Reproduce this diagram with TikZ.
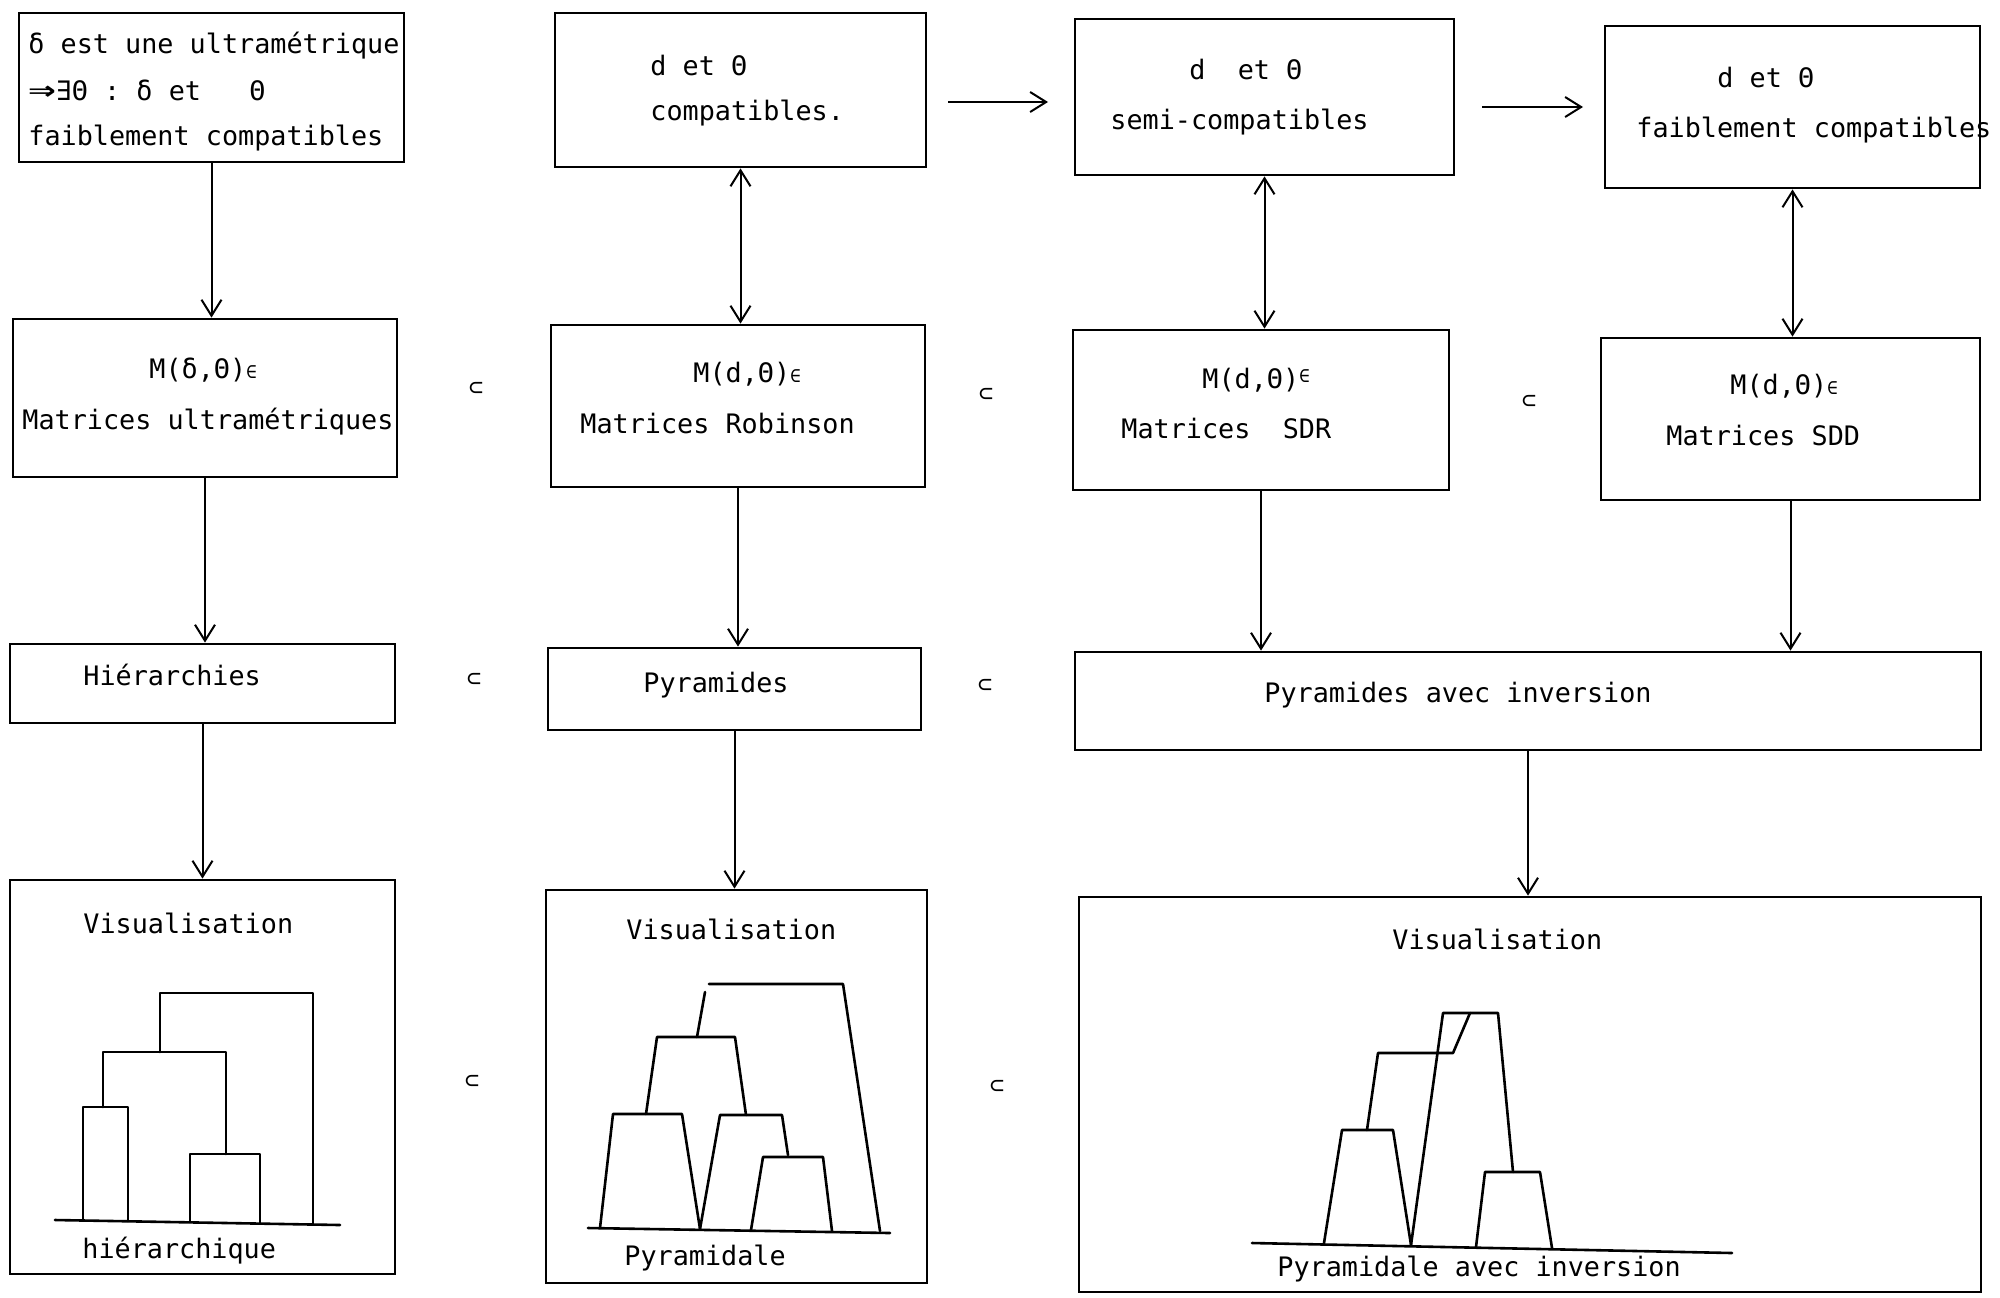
\documentclass[tikz,border=0pt]{standalone}
\usepackage{fontspec}
\usepackage{graphicx}
\setmainfont{DejaVu Sans Mono}
\newfontfamily\boldarrowfont{DejaVu Sans Mono Bold}
\usetikzlibrary{arrows.meta,fit}
\begin{document}
\begin{tikzpicture}[x=0.5pt,y=-0.5pt,
  box/.style={draw, line width=1.4pt, inner sep=0pt},
  txt/.style={anchor=base west, inner sep=0pt, font=\fontsize{13.4}{15}\selectfont},
  barb/.tip={Straight Barb[length=8pt,width=10pt,line width=1pt]},
  arr/.style={line width=1pt, -barb},
  darr/.style={line width=1pt, barb-barb},
  sub/.style={inner sep=0pt, font=\fontsize{12}{12}\selectfont},
  dend/.style={line width=1.3pt, line join=round, line cap=round}]
\useasboundingbox (0,0) rectangle (2000,1297);
\newcommand{\smallin}{{\fontsize{9}{9}\selectfont ∈}}
% Row 1
\node[box, fit={(19,13) (404,162)}] (A) {};
\node[box, fit={(555,13) (926,167)}] (B) {};
\node[box, fit={(1075,19) (1454,175)}] (C) {};
\node[box, fit={(1605,26) (1980,188)}] (D) {};
\node[txt] (a1) at (28,53) {δ est une ultramétrique};
\node[txt] (a2) at (28,100) {\scalebox{1.7}[1.2]{\bfseries ⇒}∃Θ~:~δ~et~~~Θ};
\node[txt] (a3) at (28,145) {faiblement compatibles};
\node[txt] (b1) at (650,75) {d et Θ};
\node[txt] (b2) at (650,120) {compatibles.};
\node[txt] (c1) at (1189,79) {d~~et Θ};
\node[txt] (c2) at (1110,129) {semi-compatibles};
\node[txt] (d1) at (1717,87) {d et Θ};
\node[txt] (d2) at (1636,137) {faiblement compatibles};
\coordinate (bc1) at (948,102);
\coordinate (bc2) at (1048,102);
\coordinate (cd1) at (1482,107);
\coordinate (cd2) at (1583,107);
\draw[arr] (bc1) -- (bc2);
\draw[arr] (cd1) -- (cd2);
% Row 2
\node[box, fit={(13,319) (397,477)}] (E) {};
\node[box, fit={(551,325) (925,487)}] (F) {};
\node[box, fit={(1073,330) (1449,490)}] (G) {};
\node[box, fit={(1601,338) (1980,500)}] (H) {};
\node[txt] (e1) at (149,378) {M(δ,Θ)\smallin};
\node[txt] (e2) at (22,429) {Matrices ultramétriques};
\node[txt] (f1) at (693,382) {M(d,Θ)\smallin};
\node[txt] (f2) at (580,433) {Matrices Robinson};
\node[txt] (g1) at (1202,388) {M(d,Θ)\raisebox{3pt}{\smallin}};
\node[txt] (g2) at (1121,438) {Matrices~~SDR};
\node[txt] (h1) at (1730,394) {M(d,Θ)\smallin};
\node[txt] (h2) at (1666,445) {Matrices SDD};
\node[sub] (s1) at (476,389) {⊂};
\node[sub] (s2) at (986,395) {⊂};
\node[sub] (s3) at (1529,402) {⊂};
\draw[arr] (A.south) -- (A.south |- E.north);
\draw[darr] (B.south) -- (B.south |- F.north);
\draw[darr] (C.south) -- (C.south |- G.north);
\draw[darr] (D.south) -- (D.south |- H.north);
% Row 3
\node[box, fit={(10,644) (395,723)}] (I) {};
\node[box, fit={(548,648) (921,730)}] (J) {};
\node[box, fit={(1075,652) (1981,750)}] (K) {};
\node[txt] (i1) at (83,685) {Hiérarchies};
\node[txt] (j1) at (643,692) {Pyramides};
\node[txt] (k1) at (1264,702) {Pyramides avec inversion};
\node[sub] (s4) at (474,680) {⊂};
\node[sub] (s5) at (985,686) {⊂};
\draw[arr] (E.south) -- (E.south |- I.north);
\draw[arr] (F.south) -- (F.south |- J.north);
\draw[arr] (G.south) -- (G.south |- K.north);
\draw[arr] (H.south) -- (H.south |- K.north);
% Row 4
\node[box, fit={(10,880) (395,1274)}] (L) {};
\node[box, fit={(546,890) (927,1283)}] (M) {};
\node[box, fit={(1079,897) (1981,1292)}] (N) {};
\node[txt] (l1) at (83,933) {Visualisation};
\node[txt] (l2) at (82,1258) {hiérarchique};
\node[txt] (m1) at (626,939) {Visualisation};
\node[txt] (m2) at (624,1265) {Pyramidale};
\node[txt] (n1) at (1392,949) {Visualisation};
\node[txt] (n2) at (1277,1276) {Pyramidale avec inversion};
\node[sub] (s6) at (472,1082) {⊂};
\node[sub] (s7) at (997,1087) {⊂};
\draw[arr] (I.south) -- (I.south |- L.north);
\draw[arr] (J.south) -- (J.south |- M.north);
\draw[arr] (K.south) -- (K.south |- N.north);
% Dendrogram: hierarchy
\draw[dend] (55,1220) -- (340,1225);
\draw[dend] (83,1220) -- (83,1107) -- (128,1107) -- (128,1221);
\draw[dend] (190,1222) -- (190,1154) -- (260,1154) -- (260,1223);
\draw[dend] (103,1107) -- (103,1052) -- (226,1052) -- (226,1154);
\draw[dend] (160,1052) -- (160,993) -- (313,993) -- (313,1224);
% Dendrogram: pyramid
\draw[dend] (588,1228) -- (890,1233);
\draw[dend] (600,1228) -- (613,1114) -- (682,1114) -- (700,1229);
\draw[dend] (700,1229) -- (720,1115) -- (782,1115) -- (788,1155);
\draw[dend] (751,1230) -- (763,1157) -- (823,1157) -- (832,1231);
\draw[dend] (646,1114) -- (657,1037) -- (735,1037) -- (746,1115);
\draw[dend] (697,1037) -- (705,992);
\draw[dend] (709,984) -- (843,984) -- (880,1231);
% Dendrogram: pyramid with inversion
\draw[dend] (1252,1243) -- (1732,1253);
\draw[dend] (1324,1243) -- (1342,1130) -- (1393,1130) -- (1411,1245);
\draw[dend] (1411,1245) -- (1443,1013) -- (1498,1013) -- (1513,1172);
\draw[dend] (1476,1247) -- (1485,1172) -- (1540,1172) -- (1552,1248);
\draw[dend] (1367,1130) -- (1378,1053) -- (1453,1053) -- (1470,1013);
\end{tikzpicture}
\end{document}
